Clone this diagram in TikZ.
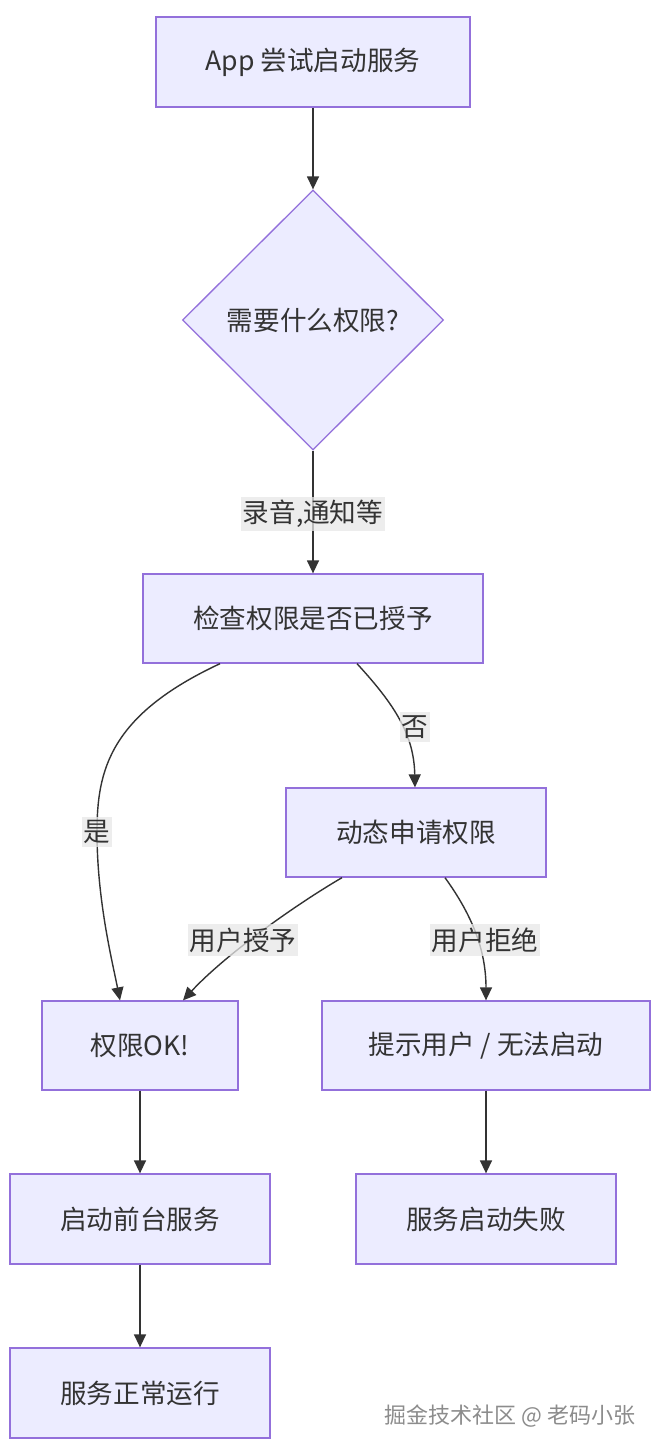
\documentclass[tikz,border=0pt]{standalone}
\usepackage{fontspec}
\setmainfont{Noto Sans CJK SC}
\usetikzlibrary{arrows.meta,shapes.geometric,calc}
\definecolor{boxfill}{HTML}{ECECFF}
\definecolor{boxdraw}{HTML}{9370DB}
\definecolor{ink}{HTML}{333333}
\definecolor{lblbg}{HTML}{E8E8E8}
\tikzset{
  box/.style={draw=boxdraw, fill=boxfill, line width=1.3pt, text=ink, inner sep=0pt, font=\fontsize{26.6}{30}\selectfont},
  dia/.style={diamond, aspect=1, draw=boxdraw, fill=boxfill, line width=1.3pt, text=ink, inner sep=0pt, minimum width=261pt, minimum height=260pt, font=\fontsize{26.6}{30}\selectfont},
  edge/.style={draw=ink, line width=1.4pt, -{Triangle[length=13pt,width=12pt]}},
  lbl/.style={fill=lblbg, fill opacity=0.75, text opacity=1, text=ink, inner xsep=2pt, inner ysep=3.5pt, font=\fontsize{26.6}{30}\selectfont},
}
\begin{document}
\begin{tikzpicture}[x=1pt,y=-1pt]
\useasboundingbox[fill=white] (0,0) rectangle (660,1452);
\node[box, minimum width=314pt, minimum height=90pt] (A) at (313,62) {App 尝试启动服务};
\node[dia] (Q) at (313,320) {需要什么权限?};
\node[box, minimum width=340pt, minimum height=89pt] (B) at (313,618.5) {检查权限是否已授予};
\node[box, minimum width=260pt, minimum height=89pt] (C) at (416,832.5) {动态申请权限};
\node[box, minimum width=196pt, minimum height=89pt] (D) at (140,1045.5) {权限OK!};
\node[box, minimum width=328pt, minimum height=89pt] (E) at (486,1045.5) {提示用户 / 无法启动};
\node[box, minimum width=260pt, minimum height=90pt] (F) at (140,1219) {启动前台服务};
\node[box, minimum width=260pt, minimum height=90pt] (G) at (486,1219) {服务启动失败};
\node[box, minimum width=260pt, minimum height=90pt] (H) at (140,1393) {服务正常运行};

\draw[edge] (A) -- (Q);
\draw[edge] (Q) -- (B);
\draw[edge] ($(B.south)+(-93,0)$) .. controls (110,715) and (97,770) .. (97,832) .. controls (97,900) and (112,960) .. ($(D.north)+(-20,0)$);
\draw[edge] ($(B.south)+(44,0)$) .. controls (395,705) and (414,735) .. ($(C.north)+(-1,0)$);
\draw[edge] ($(C.south)+(-74,0)$) .. controls (295,905) and (225,955) .. ($(D.north)+(43,0)$);
\draw[edge] ($(C.south)+(29,0)$) .. controls (472,915) and (486,950) .. (E.north);
\draw[edge] (D) -- (F);
\draw[edge] (E) -- (G);
\draw[edge] (F) -- (H);

\node[lbl] (l1) at (313,514) {录音,通知等};
\node[lbl] (l2) at (415,727) {否};
\node[lbl] (l3) at (97,832) {是};
\node[lbl] (l4) at (243,940) {用户授予};
\node[lbl] (l5) at (485,940) {用户拒绝};
\node[text=black!45, font=\fontsize{22}{25}\selectfont] (wm) at (510,1416) {掘金技术社区 @ 老码小张};
\end{tikzpicture}
\end{document}
